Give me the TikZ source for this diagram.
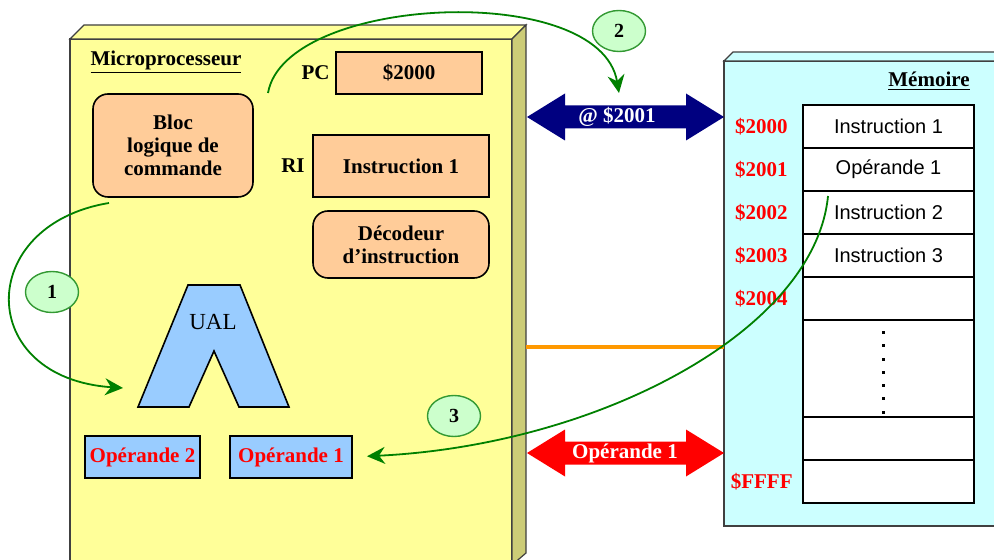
\documentclass[tikz,border=0pt]{standalone}
\usepackage{fontspec}
\setmainfont{Liberation Serif}
\newfontfamily\arialfont{Liberation Sans}
\usetikzlibrary{arrows.meta,positioning,shapes.geometric}
\definecolor{cpuyellow}{HTML}{FFFF99}
\definecolor{cpuside}{HTML}{CCCC77}
\definecolor{peach}{HTML}{FFCC99}
\definecolor{skyblue}{HTML}{99CCFF}
\definecolor{memcyan}{HTML}{CCFFFF}
\definecolor{stepmint}{HTML}{CCFFCC}
\definecolor{busnavy}{HTML}{000080}
\definecolor{busorange}{HTML}{FF9900}
\definecolor{flowgreen}{HTML}{008000}
\newcommand{\labfont}{\bfseries\fontsize{10.5}{11.5}\selectfont}

\begin{document}
\begin{tikzpicture}[x=0.5pt,y=-0.5pt,
casefront/.style={draw=black!75,line width=0.6pt,inner sep=0pt,outer sep=0pt},
caseface/.style={draw=black!75,line width=0.6pt},
reg/.style={draw,line width=0.8pt,fill=peach,inner sep=0pt,outer sep=0pt,align=center,font=\labfont},
opbox/.style={draw,line width=0.8pt,fill=skyblue,inner sep=0pt,outer sep=0pt,minimum height=21pt,text=red,font=\labfont},
lbl/.style={inner sep=0pt,font=\labfont},
addr/.style={inner sep=0pt,text=red,font=\labfont},
memcell/.style={draw,line width=1.2pt,fill=white,inner sep=0pt,outer sep=0pt,minimum width=85.5pt,minimum height=21.5pt,font=\arialfont\fontsize{10}{12}\selectfont},
bustext/.style={text=white,inner sep=0pt,font=\labfont},
stepnum/.style={ellipse,draw=flowgreen!80,fill=stepmint,line width=0.7pt,minimum width=26.5pt,minimum height=20.5pt,inner sep=0pt,font=\bfseries\fontsize{10}{12}\selectfont},
flowarrow/.style={flowgreen,line width=0.9pt,-{Stealth[length=9pt,width=8.5pt,inset=3pt]}}]

\useasboundingbox (0,0) rectangle (994,560);
\clip (0,0) rectangle (994,560);

% microprocesseur
\node[casefront,fill=cpuyellow,minimum width=221pt,minimum height=263pt] (cpu) at (291,302) {};
\filldraw[caseface,fill=cpuyellow] (cpu.north west)--++(14,-14)--++(442,0)--(cpu.north east)--cycle;
\filldraw[caseface,fill=cpuside] (cpu.north east)--++(14,-14)--++(0,528)--(cpu.south east)--cycle;
\node[lbl] (cputitle) at (166,62) {\underline{Microprocesseur}};

% memoire
\node[casefront,fill=memcyan,minimum width=143pt,minimum height=232.5pt] (mem) at (867,293.5) {};
\filldraw[caseface,fill=memcyan] (mem.north west)--++(9,-9)--++(300,0)--(mem.north east)--cycle;
\node[lbl] (memtitle) at (929,81) {\underline{Mémoire}};

\node[reg,minimum width=73pt,minimum height=21pt] (pc) at (409,73) {\$2000};
\node[lbl,left=3pt of pc] (pclbl) {PC};
\node[reg,rounded corners=7.5pt,minimum width=80pt,minimum height=51.5pt] (bloc) at (173,145.5) {Bloc\\logique de\\commande};
\node[reg,minimum width=88pt,minimum height=31pt] (ri) at (401,166) {Instruction 1};
\node[lbl,left=4pt of ri] (rilbl) {RI};
\node[reg,rounded corners=7.5pt,minimum width=88pt,minimum height=33.5pt] (dec) at (401,244.5) {Décodeur\\d’instruction};

\filldraw[fill=skyblue,line width=0.8pt] (188,285)--(240,285)--(289,407)--(239,407)--(214,351)--(189,407)--(138,407)--cycle;
\node[inner sep=0pt,font=\fontsize{11.5}{12}\selectfont] (ual) at (213,322) {UAL};

\node[opbox,minimum width=57.5pt] (op2) at (142.5,457) {Opérande 2};
\node[opbox,minimum width=61pt] (op1) at (291,457) {Opérande 1};

\node[memcell,anchor=north] (m1) at (888.5,105) {Instruction 1};
\node[memcell,below=0pt of m1] (m2) {Opérande 1};
\node[memcell,below=0pt of m2] (m3) {Instruction 2};
\node[memcell,below=0pt of m3] (m4) {Instruction 3};
\node[memcell,below=0pt of m4] (m5) {};
\node[memcell,below=0pt of m5,minimum height=48.5pt] (m6) {};
\node[memcell,below=0pt of m6] (m7) {};
\node[memcell,below=0pt of m7] (m8) {};
\foreach \k in {0,...,6}
  \fill (882,331+13.3*\k) rectangle ++(3,3);

\foreach \i/\a in {1/2000,2/2001,3/2002,4/2003,5/2004}
  \node[addr,left=7.5pt of m\i] (a\i) {\$\a};
\node[addr,left=5pt of m8] (a8) {\$FFFF};

% bus
\fill[busnavy] (527,117)--(565,93.5)--(565,105.5)--(686,105.5)--(686,93.5)--(724,117)--(686,140.5)--(686,128.5)--(565,128.5)--(565,140.5)--cycle;
\node[bustext] (adr) at (617,117) {@ \$2001};
\fill[red] (527,453)--(565,429.5)--(565,441.5)--(686,441.5)--(686,429.5)--(724,453)--(686,476.5)--(686,464.5)--(565,464.5)--(565,476.5)--cycle;
\node[bustext] (dat) at (625,453) {Opérande 1};
\coordinate (ctl) at (526,347);
\draw[busorange,line width=2pt] (ctl) -- (ctl -| mem.west);

% etapes
\coordinate (blocout) at (109,203);
\coordinate (ualin) at (123,388);
\draw[flowarrow] (blocout) .. controls (-25,225) and (-25,378) .. (ualin);
\coordinate (blocup) at (268,93);
\coordinate (adrin) at (619,93);
\draw[flowarrow] (blocup) .. controls (285,-5) and (600,-20) .. (adrin);
\coordinate (memout) at (828,196);
\draw[flowarrow,shorten >=7.5pt] (memout) .. controls (815,330) and (600,445) .. (op1.east);

\node[stepnum] (n1) at (52,292) {1};
\node[stepnum] (n2) at (619,31) {2};
\node[stepnum] (n3) at (454,416) {3};
\end{tikzpicture}
\end{document}
